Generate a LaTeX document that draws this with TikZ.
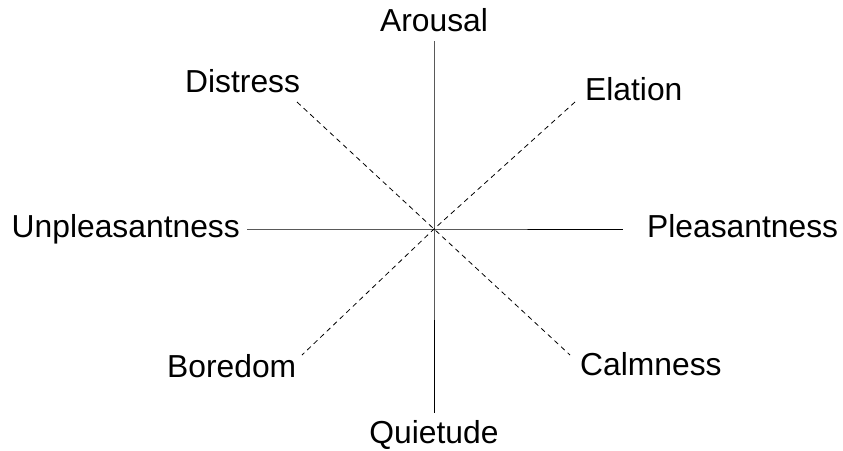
\documentclass[tikz,border=0pt]{standalone}
\usepackage{fontspec}
\setmainfont{Liberation Sans}
\begin{document}
\begin{tikzpicture}[x=1pt,y=-1pt,
  lbl/.style={inner sep=0pt,font=\fontsize{31.8}{36}\selectfont},
  axis/.style={line width=1pt,black},
  diag/.style={line width=0.8pt,black,dash pattern=on 5pt off 4pt}]
\useasboundingbox (0,0) rectangle (843,450);
\coordinate (c) at (434,229);
% labels
\node[lbl,anchor=base] (arousal) at (434,31) {Arousal};
\node[lbl,anchor=base] (quietude) at (434,443) {Quietude};
\node[lbl,anchor=base east] (unpl) at (240,237) {Unpleasantness};
\node[lbl,anchor=base west] (pl) at (647,237) {Pleasantness};
\node[lbl,anchor=base west] (distress) at (185,92) {Distress};
\node[lbl,anchor=base west] (elation) at (585,100) {Elation};
\node[lbl,anchor=base west] (boredom) at (167,377) {Boredom};
\node[lbl,anchor=base west] (calm) at (580,375) {Calmness};
% line ends
\coordinate (top) at (434,41);
\coordinate (bot) at (434,413);
\coordinate (left) at (247,229);
\coordinate (right) at (623,229);
\coordinate (dl) at (297,102);
\coordinate (el) at (575,102);
\coordinate (bl) at (302,355);
\coordinate (cl) at (570,355);
% axes
\draw[axis] (top) -- (c) -- (bot);
\draw[axis] (left) -- (c) -- (right);
\draw[diag] (dl) -- (c) -- (cl);
\draw[diag] (el) -- (c) -- (bl);
\end{tikzpicture}
\end{document}
